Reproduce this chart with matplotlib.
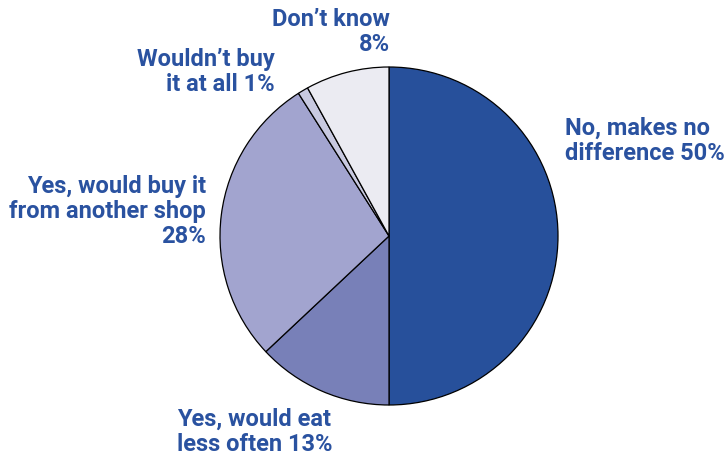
import matplotlib
matplotlib.use("Agg")
import matplotlib.pyplot as plt

labels = ["No, makes no\ndifference 50%", "Yes, would eat\nless often 13%",
          "Yes, would buy it\nfrom another shop\n28%", "Wouldn\u2019t buy\nit at all 1%",
          "Don\u2019t know\n8%"]
shares = [50, 13, 28, 1, 8]
colors = ["#27509b", "#7880b8", "#a2a4cf", "#c8c9e0", "#ebebf2"]
TXT = "#2a52a0"

W, H = 727, 455
fig = plt.figure(figsize=(W / 100, H / 100), dpi=100)
ax = fig.add_axes([0, 0, 1, 1])

ax.pie(shares, colors=colors, startangle=90, counterclock=False,
       center=(389, H - 236), radius=169, frame=True,
       wedgeprops=dict(edgecolor="black", linewidth=0.9))
ax.set_xlim(0, W); ax.set_ylim(0, H)
ax.set_aspect("equal"); ax.axis("off")

font = dict(family=["Roboto", "DejaVu Sans"], fontsize=17,
            fontweight="bold", color=TXT, linespacing=1.12)
# (x, y of top line centre, ha)
places = [(565, 127, "left"), (177, 418, "left"), (206, 185, "right"),
          (275, 58, "right"), (390, 18, "right")]
for lab, (x, y, ha) in zip(labels, places):
    ax.text(x, H - y + 10, lab, ha=ha, va="top", multialignment=ha, **font)

fig.savefig("out.png", dpi=100)
